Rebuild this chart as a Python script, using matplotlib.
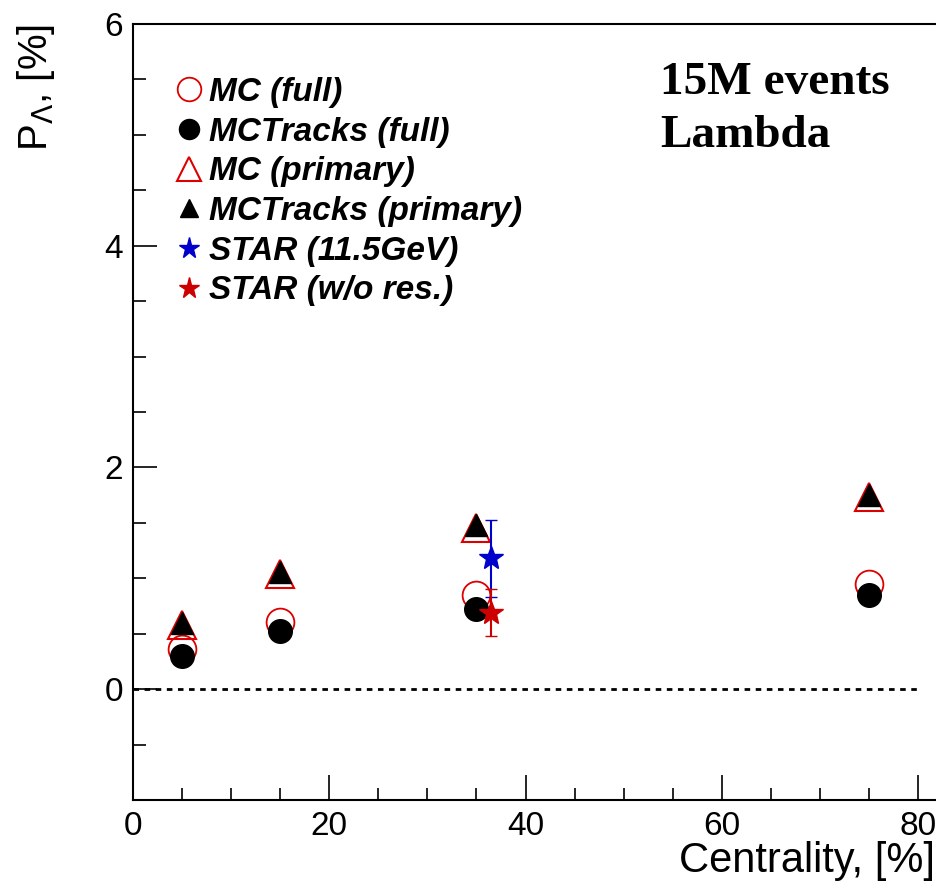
import matplotlib
matplotlib.use("Agg")
import matplotlib.pyplot as plt
import numpy as np

# centrality bins [%]
cent = [5, 15, 35, 75]
mc_full = [0.36, 0.61, 0.85, 0.95]
mctr_full = [0.30, 0.52, 0.72, 0.85]
mc_prim = [0.58, 1.04, 1.45, 1.73]
mctr_prim = [0.60, 1.06, 1.48, 1.75]

star_x = [36.5]
star_115 = [1.18]
star_115_err = [0.35]
star_nores = [0.69]
star_nores_err = [0.21]

labels = ['MC (full)', 'MCTracks (full)', 'MC (primary)', 'MCTracks (primary)',
          'STAR (11.5GeV)', 'STAR (w/o res.)']

plt.rcParams['font.family'] = ['Liberation Sans', 'DejaVu Sans']

W, H = 936, 885
fig = plt.figure(figsize=(W/100, H/100), dpi=100)
ax = fig.add_axes([133/W, 85/H, 84*9.8125/W, 776/H])

ax.plot([0, 80], [0, 0], 'k', ls=(0, (2, 2)), lw=2)

h1, = ax.plot(cent, mc_full, 'o', mfc='none', mec='#dd0000', mew=1.3, ms=20, ls='none')
h2, = ax.plot(cent, mctr_full, 'o', color='k', ms=17, ls='none')
h3, = ax.plot(cent, mc_prim, '^', mfc='none', mec='#dd0000', mew=1.5, ms=20, ls='none')
h4, = ax.plot(cent, mctr_prim, '^', color='k', ms=16, ls='none')
h5 = ax.errorbar(star_x, star_115, yerr=star_115_err, fmt='*', color='#0000cc',
                 ms=18, capsize=4, elinewidth=1.5)
h6 = ax.errorbar(star_x, star_nores, yerr=star_nores_err, fmt='*', color='#cc0000',
                 ms=18, capsize=4, elinewidth=1.5)

ax.set_xlim(0, 84)
ax.set_ylim(-1, 6)
ax.set_xticks([0, 20, 40, 60, 80])
ax.set_xticks(np.arange(0, 85, 5), minor=True)
ax.set_yticks([0, 2, 4, 6])
ax.set_yticks(np.arange(-1, 6.01, 0.5), minor=True)
ax.tick_params(which='both', direction='in', labelsize=24, width=1.2)
ax.tick_params(axis='x', which='major', length=18, pad=8)
ax.tick_params(axis='x', which='minor', length=9)
ax.tick_params(axis='y', which='major', length=17, pad=7)
ax.tick_params(axis='y', which='minor', length=9)
ax.tick_params(top=False, right=False, which='both')
for s in ax.spines.values():
    s.set_linewidth(1.5)

fig.text(935/W, 1 - 872/H, 'Centrality, [%]', ha='right', va='baseline', fontsize=30)
fig.text(36/W, 1 - 24/H, r'P$_{\Lambda}$, [%]', ha='center', va='top',
         rotation=90, fontsize=29)

leg = ax.legend([h1, h2, h3, h4, h5[0], h6[0]], labels,
                loc='upper left', bbox_to_anchor=(0.027, 0.953), frameon=False,
                prop={'size': 24, 'weight': 'bold', 'style': 'italic'}, borderpad=0,
                handletextpad=0.12, labelspacing=0.26, handlelength=1.0, markerscale=0.85)

fig.text(660/W, 1 - 147/H, '15M events\nLambda', fontsize=34, fontweight='bold',
         family='Liberation Serif', va='baseline', ha='left', linespacing=1.33)

fig.savefig('out.png', dpi=100)
